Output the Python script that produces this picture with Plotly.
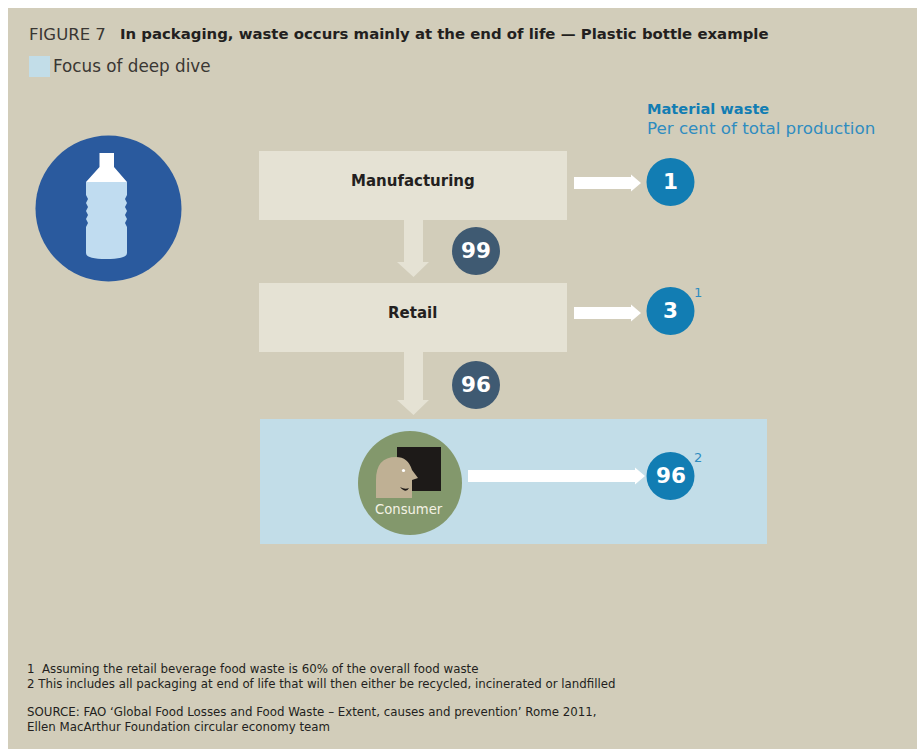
import plotly.graph_objects as go

stages = ["Manufacturing", "Retail"]
passed_on = [99, 96]
waste_pct = [1, 3, 96]
waste_refs = ["", "1", "2"]

title_lead = "FIGURE 7"
title_main = "In packaging, waste occurs mainly at the end of life — Plastic bottle example"
legend_label = "Focus of deep dive"
waste_head = "Material waste"
waste_sub = "Per cent of total production"
consumer_label = "Consumer"
notes = [
    "1  Assuming the retail beverage food waste is 60% of the overall food waste",
    "2 This includes all packaging at end of life that will then either be recycled, incinerated or landfilled",
]
source = [
    "SOURCE: FAO ‘Global Food Losses and Food Waste – Extent, causes and prevention’ Rome 2011,",
    "Ellen MacArthur Foundation circular economy team",
]

PANEL = "#d2cdba"
BOX = "#e5e2d4"
FOCUS = "#c2dde8"
NAVY = "#2a5a9e"
TEAL = "#127db3"
SLATE = "#3f5a72"
GREEN = "#83986c"
SKIN = "#bfb094"
INK = "#231f20"
FONT = "DejaVu Sans"

shapes = []
annotations = []


def rect(x0, y0, x1, y1, color):
    shapes.append(dict(type="rect", x0=x0, y0=y0, x1=x1, y1=y1, fillcolor=color, line_width=0, layer="below"))


def circle(cx, cy, r, color):
    shapes.append(dict(type="circle", x0=cx - r, y0=cy - r, x1=cx + r, y1=cy + r, fillcolor=color, line_width=0, layer="below"))


def path(d, color):
    shapes.append(dict(type="path", path=d, fillcolor=color, line_width=0, layer="below"))


def label(x, y, s, size, color=INK, anchor="left", bold=False):
    if bold:
        s = f"<b>{s}</b>"
    annotations.append(dict(x=x, y=y, text=s, showarrow=False, xanchor=anchor, yanchor="middle",
                            borderpad=0, borderwidth=0,
                            font=dict(family=FONT, size=size, color=color)))


def down_arrow(y0, y1, y2):
    path(f"M404,{y0} L423,{y0} L423,{y1} L429,{y1} L413.5,{y2} L397,{y1} L404,{y1} Z", BOX)


def right_arrow(x0, x1, x2, y):
    path(f"M{x0},{y-6} L{x1},{y-6} L{x1},{y-8.5} L{x2},{y} L{x1},{y+8.5} L{x1},{y+6} L{x0},{y+6} Z", "#ffffff")


# page
rect(8, 8, 917, 749, PANEL)

# header
label(29, 34, title_lead, 16.5, "#3a3733")
label(120, 34, title_main, 14.9, bold=True)
rect(29, 56, 50, 77, FOCUS)
label(53, 66, legend_label, 16.8, "#3a3733")

# bottle
circle(108.5, 208.5, 73, NAVY)
path("M99.5,153 L114,153 L114,167 L127,182 L86,182 L99.5,167 Z", "#ffffff")
path("M86,182 L127,182 L127,195 L125,199 L127,203 L125,207 L127,211 L125,215 L127,219 L125,223 L127,227 "
     "L127,253 Q127,259 106,259 Q86,259 86,253 L86,227 L88,223 L86,219 L88,215 L86,211 L88,207 L86,203 L88,199 L86,195 Z", "#c0dcf0")

# stage boxes and flows
stage_y = [(151, 220), (283, 352)]
flow_y = [(220, 262, 277), (352, 400, 415)]
badge_y = [251, 385]
for name, (y0, y1) in zip(stages, stage_y):
    rect(259, y0, 567, y1, BOX)
    label(412.5, (y0 + y1) / 2 - 4.5, name, 15, anchor="center", bold=True)
for (a, b, c) in flow_y:
    down_arrow(a, b, c)
for val, y in zip(passed_on, badge_y):
    circle(476, y, 24, SLATE)
    label(476, y - 1, str(val), 21.5, "#ffffff", "center", True)

# consumer focus area
rect(260, 419, 767, 544, FOCUS)
circle(410, 483, 52, GREEN)
rect(397, 447, 441, 491, "#1d1a18")
path("M376,498 L376,480 Q376,457 396,457 Q408,457 412,470 L418,478 L412,480 L412,498 Z", SKIN)
circle(403.5, 470.5, 1.6, "#ffffff")
path("M400,487 Q405,490 409,488 Q406,494 400,487 Z", "#1d1a18")
label(409, 509, consumer_label, 13.2, "#f4f2e4", "center")

# waste column
label(647, 108, waste_head, 14.6, TEAL, bold=True)
label(647, 128, waste_sub, 16.7, "#2f8cc0")
waste_y = [182, 311, 476]
arrow_x = [(574, 631, 641), (574, 631, 641), (468, 635, 645)]
for val, ref, y, (a, b, c) in zip(waste_pct, waste_refs, waste_y, arrow_x):
    right_arrow(a, b, c, y + (2 if val == 3 else 1 if val == 1 else 0))
    circle(670.5, y, 24, TEAL)
    label(670.5, y - 1, str(val), 21.5, "#ffffff", "center", True)
    if ref:
        label(694, y - 19, ref, 13, "#2f8cc0")

# footnotes
for s, y in zip(notes + source, [669, 684, 712, 727]):
    label(27, y, s, 11.8)

fig = go.Figure()
fig.update_layout(
    width=917, height=749, margin=dict(l=0, r=0, t=0, b=0),
    paper_bgcolor="#ffffff", plot_bgcolor="#ffffff", showlegend=False,
    xaxis=dict(range=[0, 917], visible=False, fixedrange=True),
    yaxis=dict(range=[749, 0], visible=False, fixedrange=True),
    shapes=shapes, annotations=annotations,
)
fig.write_html("out.html", config={"displayModeBar": False},
               post_script="document.body.style.margin='0';document.body.style.overflow='hidden';")
